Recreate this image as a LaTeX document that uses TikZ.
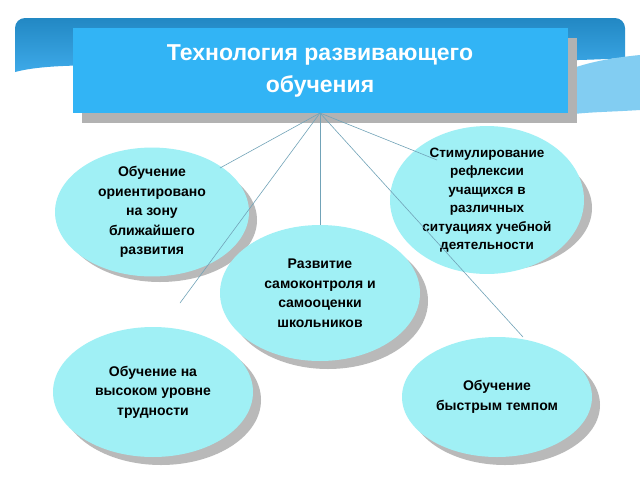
\documentclass[tikz,border=0pt]{standalone}
\usepackage{fontspec}
\setmainfont{Liberation Sans}
\usetikzlibrary{shapes.geometric}
\begin{document}
\begin{tikzpicture}[x=1pt,y=-1pt,
  ell/.style={ellipse,minimum width=194pt,minimum height=124pt,inner sep=0pt,align=center,font=\bfseries\fontsize{14}{19.5}\selectfont},
  shad/.style={fill=gray!55},
  conn/.style={draw=gray!60!cyan,line width=0.6pt}]
\useasboundingbox (0,0) rectangle (640,480);
\fill[white] (0,0) rectangle (640,480);
\definecolor{band}{RGB}{40,160,230}
\definecolor{bandl}{RGB}{130,205,242}
\definecolor{ttl}{RGB}{50,180,245}
\definecolor{ecol}{RGB}{160,240,245}
% band
\shade[top color=band!85!black,bottom color=band!90!white] (15,28) arc (180:270:10) -- (615,18) arc (270:360:10) -- (625,58) .. controls (560,62) and (500,60) .. (300,66) .. controls (150,68) and (60,60) .. (15,72) -- cycle;
\fill[bandl] (567,70) .. controls (590,62) and (610,58) .. (640,55) -- (640,110) .. controls (610,112) and (585,112) .. (567,115) -- cycle;
% title
\fill[gray!60] (82,38) rectangle (577,123);
\node[fill=ttl,minimum width=495pt,minimum height=85pt,inner sep=0pt,align=center,text=white,font=\bfseries\fontsize{23}{32}\selectfont] (t) at (320,70.5) {Технология развивающего\\обучения};
\coordinate (hub) at (320,113);
% top ellipses
\fill[shad] (160,220) ellipse (97pt and 62pt);
\node[ell,fill=ecol] (a) at (152,212) {Обучение\\ориентировано\\на зону\\ближайшего\\развития};
\fill[shad] (495,208) ellipse (97pt and 63pt);
\node[ell,fill=ecol,minimum height=126pt,font=\bfseries\fontsize{13.5}{18.5}\selectfont] (b) at (487,200) {Стимулирование\\рефлексии\\учащихся в\\различных\\ситуациях учебной\\деятельности};
% connectors
\coordinate (ea) at (220,168);
\coordinate (eb) at (437,160);
\coordinate (ec) at (320,225);
\coordinate (ed) at (180,303);
\coordinate (ee) at (523,337);
\draw[conn] (hub) -- (ea);
\draw[conn] (hub) -- (eb);
\draw[conn] (hub) -- (ec);
\draw[conn] (hub) -- (ed);
\draw[conn] (hub) -- (ee);
% lower ellipses
\fill[shad] (328,301) ellipse (100pt and 68pt);
\node[ell,fill=ecol,minimum width=200pt,minimum height=136pt] (c) at (320,293) {Развитие\\самоконтроля и\\самооценки\\школьников};
\fill[shad] (161,400) ellipse (100pt and 65pt);
\node[ell,fill=ecol,minimum width=200pt,minimum height=130pt] (d) at (153,392) {Обучение на\\высоком уровне\\трудности};
\fill[shad] (505,405) ellipse (95pt and 60pt);
\node[ell,fill=ecol,minimum width=190pt,minimum height=120pt] (e) at (497,397) {Обучение\\быстрым темпом};
\end{tikzpicture}
\end{document}
